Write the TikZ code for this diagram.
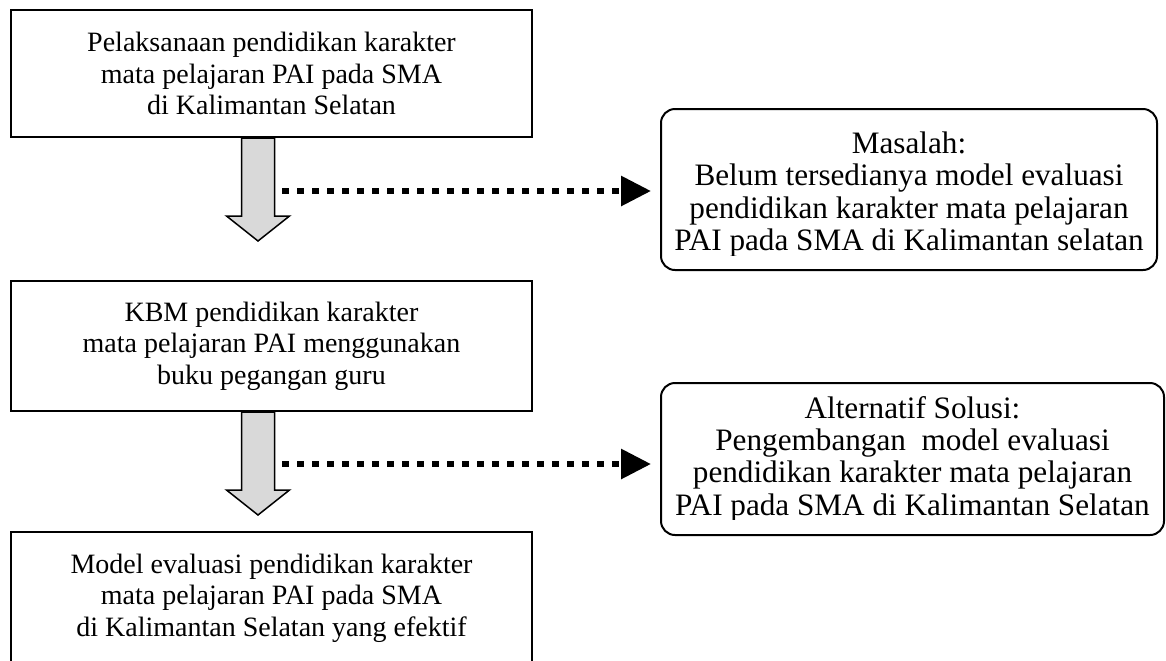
\documentclass[tikz,border=0pt]{standalone}
\usepackage{fontspec}
\setmainfont{Liberation Serif}
\usetikzlibrary{arrows.meta}
\begin{document}
\begin{tikzpicture}[x=0.5pt,y=-0.5pt,
		kotak/.style={draw,line width=1pt,align=center,font=\fontsize{14pt}{15.75pt}\selectfont,minimum width=260.5pt},
		kotakbulat/.style={draw,line width=1pt,rounded corners=7pt},
		teks/.style={align=center,inner sep=0pt,font=\fontsize{15.6pt}{16.2pt}\selectfont},
		panah/.style={draw,line width=0.75pt,fill=black!15},
		titik/.style={line width=3pt,dash pattern=on 3.25pt off 4.25pt,-{Triangle[length=15pt,width=14.5pt]},shorten >=4.5pt}]
	\useasboundingbox (0,0) rectangle (1166,660);
	\def\Panah#1{\draw[panah] ([xshift=-15pt]#1.south) -- ++(0,78) -- ++(-15,0) -- ++(31.5,25) -- ++(31.5,-25) -- ++(-15,0) -- ++(0,-78) -- cycle;}
	\node[kotak,minimum height=63.5pt] (pel) at (271.5,73.5) {Pelaksanaan pendidikan karakter\\mata pelajaran PAI pada SMA\\di Kalimantan Selatan};
	\node[kotak,minimum height=65pt] (kbm) at (271.5,346) {KBM pendidikan karakter\\mata pelajaran PAI menggunakan\\buku pegangan guru};
	\node[kotak,minimum height=66pt] (model) at (271.5,598) {Model evaluasi pendidikan karakter\\mata pelajaran PAI pada SMA\\di Kalimantan Selatan yang efektif};
	\Panah{pel}
	\Panah{kbm}
	\node[kotakbulat,minimum width=248pt,minimum height=80.5pt] (masalah) at (909,189.5) {};
	\begin{scope}
		\clip (masalah.north west) rectangle ([yshift=8pt]masalah.south east);
		\node[teks] (masalahteks) at ([yshift=-2.5pt]masalah.center) {Masalah:\\Belum tersedianya model evaluasi\\pendidikan karakter mata pelajaran\\PAI pada SMA di Kalimantan selatan};
	\end{scope}
	\node[kotakbulat,minimum width=251.5pt,minimum height=76pt] (solusi) at (912.5,459) {};
	\begin{scope}
		\clip (solusi.north west) rectangle ([yshift=8.5pt]solusi.south east);
		\node[teks] (solusiteks) at (solusi) {Alternatif Solusi:\\Pengembangan\ \ model evaluasi\\pendidikan karakter mata pelajaran\\PAI pada SMA di Kalimantan Selatan};
	\end{scope}
	\coordinate (t1) at (282,191);
	\coordinate (t2) at (282,464);
	\draw[titik] (t1) -- (t1 -| masalah.west);
	\draw[titik] (t2) -- (t2 -| solusi.west);
\end{tikzpicture}
\end{document}
